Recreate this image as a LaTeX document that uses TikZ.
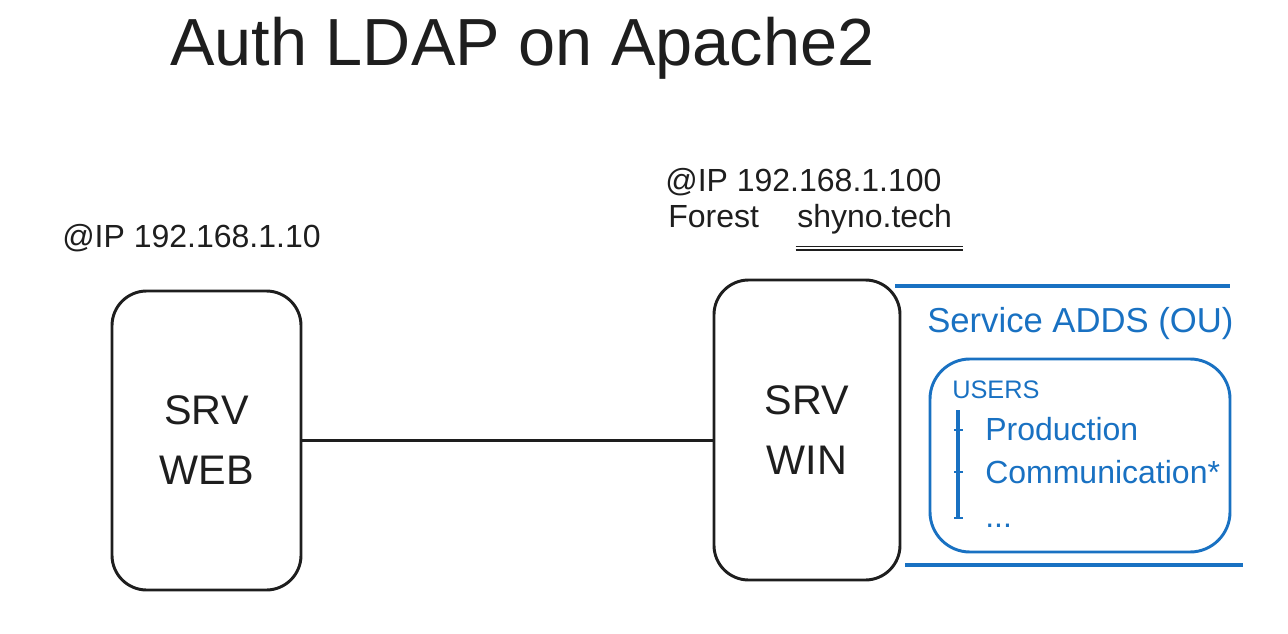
\documentclass[tikz,border=0pt]{standalone}
\usepackage{fontspec}
\setmainfont{Liberation Sans}
\definecolor{inkblack}{HTML}{1E1E1E}
\definecolor{adblue}{HTML}{1971C2}

\begin{document}
\begin{tikzpicture}[x=0.75pt,y=0.75pt,yscale=-1,xscale=1,
        srvbox/.style={draw=inkblack, line width=2.2pt, rounded corners=26pt, align=center, inner sep=0pt, text=inkblack, font=\fontsize{31}{45}\selectfont},
        iptext/.style={anchor=base west, inner sep=0pt, text=inkblack, font=\fontsize{24}{28}\selectfont},
        adtext/.style={anchor=base west, inner sep=0pt, text=adblue}]
        \useasboundingbox (0,0) rectangle (1288,634);

        \node [anchor=base west, inner sep=0pt, text=inkblack, font=\fontsize{50}{58}\selectfont] (title) at (170,66) {Auth LDAP on Apache2};

        \node [iptext] (ipweb) at (62,248) {@IP 192.168.1.10};
        \node [iptext] (ipwin) at (665,192) {@IP 192.168.1.100};
        \node [iptext] (forest) at (668,228) {Forest};
        \node [iptext] (domain) at (797,228) {shyno.tech};
        \foreach \s in {14,16.5}{
            \draw [inkblack, line width=0.8pt] ([xshift=-1pt,yshift=\s pt]domain.base west) -- ([xshift=8pt,yshift=\s pt]domain.base east);
        }

        \node [srvbox, minimum width=141.75pt, minimum height=224.25pt] (web) at (206.5,440.5) {SRV\\WEB};
        \node [srvbox, minimum width=139.5pt, minimum height=225pt] (win) at (807,430) {SRV\\WIN};
        \draw [inkblack, line width=2.2pt] (web.east) -- (web.east -| win.west);

        \draw [adblue, line width=3pt] (895,286) -- (1230,286);
        \draw [adblue, line width=3pt] (905,565) -- (1243,565);
        \node [adtext, font=\fontsize{26}{30}\selectfont] (service) at (927,333) {Service ADDS (OU)};

        \node [draw=adblue, line width=2.2pt, rounded corners=30pt, minimum width=225pt, minimum height=144.75pt] (users) at (1080,455.5) {};
        \node [adtext, font=\fontsize{19}{22}\selectfont] (usershead) at (952,398) {USERS};
        \node [adtext, font=\fontsize{24}{28}\selectfont] (prod) at (985,440) {Production};
        \node [adtext, font=\fontsize{24}{28}\selectfont] (comm) at (985,483) {Communication*};
        \node [adtext, font=\fontsize{24}{28}\selectfont] (more) at (985,527) {...};

        \draw [adblue, line width=2.6pt] (958,410) -- (958,518);
        \foreach \y in {430,472,518}{ \draw [adblue, line width=1.5pt] (954,\y) -- (963,\y); }
    \end{tikzpicture}
\end{document}
